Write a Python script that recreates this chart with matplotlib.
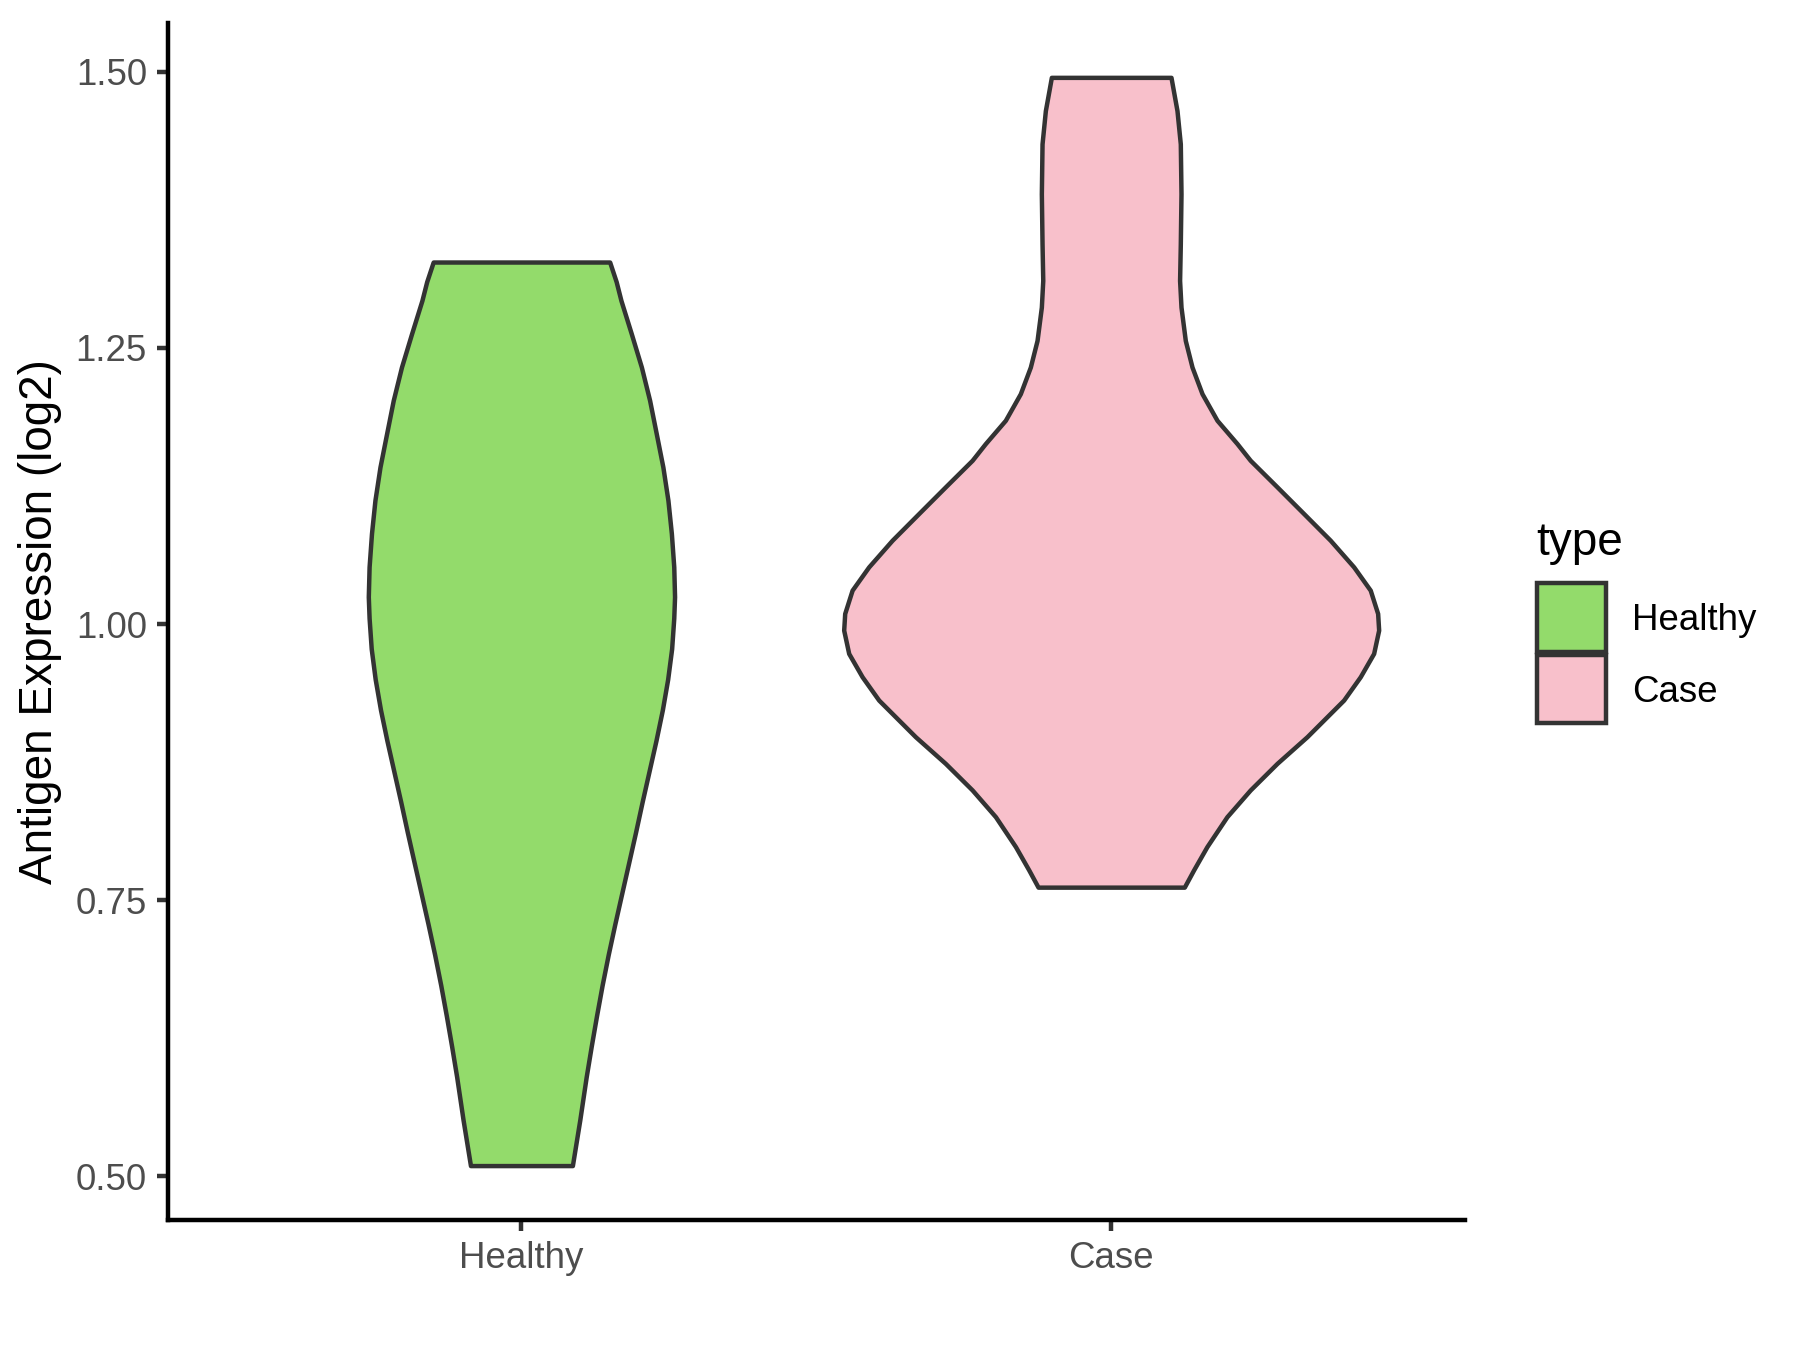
import numpy as np
import matplotlib
matplotlib.use("Agg")
import matplotlib.pyplot as plt
from matplotlib.patches import Rectangle

plt.rcParams['font.family'] = ['Liberation Sans', 'DejaVu Sans']

# groups and their colours
categories = ["Healthy", "Case"]
fill_colors = ["#93DB6B", "#F8C0CB"]

# violin outlines: expression value and relative density (widest ~ 1)
healthy_y = [1.3278, 1.310, 1.2930, 1.2629, 1.2327, 1.2026, 1.1725, 1.1422, 1.1121, 1.082,
             1.0518, 1.0247, 1.0054, 0.9777, 0.950, 0.9223, 0.8946, 0.8669, 0.8392, 0.8115,
             0.7838, 0.7562, 0.7285, 0.7007, 0.673, 0.6454, 0.6177, 0.590, 0.5512, 0.5097]
healthy_dens = [0.3325, 0.357, 0.375, 0.414, 0.452, 0.483, 0.508, 0.533, 0.552, 0.565,
                0.574, 0.577, 0.574, 0.566, 0.551, 0.531, 0.507, 0.481, 0.455, 0.430,
                0.404, 0.378, 0.352, 0.327, 0.304, 0.283, 0.263, 0.244, 0.220, 0.192]

case_y = [1.4950, 1.4649, 1.4348, 1.3896, 1.3443, 1.3111, 1.287, 1.2568, 1.2327, 1.2086,
          1.1845, 1.1634, 1.1483, 1.1242, 1.1001, 1.0759, 1.0518, 1.0307, 1.0096, 0.9945,
          0.9734, 0.9523, 0.9312, 0.898, 0.8739, 0.8498, 0.8256, 0.7985, 0.7774, 0.7618]
case_dens = [0.2254, 0.248, 0.2605, 0.2631, 0.2605, 0.2578, 0.2631, 0.2793, 0.3046, 0.3423,
             0.3988, 0.4742, 0.5239, 0.625, 0.7252, 0.8255, 0.9137, 0.9762, 1.0041, 1.0079,
             0.989, 0.9385, 0.876, 0.7377, 0.625, 0.5239, 0.4361, 0.3607, 0.3106, 0.2755]

y_ticks = [0.50, 0.75, 1.00, 1.25, 1.50]

profiles = [(healthy_y, healthy_dens), (case_y, case_dens)]

fig = plt.figure(figsize=(6, 4.5), dpi=300)
ax = fig.add_axes([0.0931, 0.0963, 0.7208, 0.8867])

lw = 1.07
for i, (yy, dd) in enumerate(profiles):
    pos = i + 1
    yy = np.array(yy)
    half = np.array(dd) * 0.45
    ax.fill_betweenx(yy, pos - half, pos + half, facecolor=fill_colors[i],
                     edgecolor="#333333", linewidth=lw, joinstyle="round")

all_y = np.concatenate([healthy_y, case_y])
span = all_y.max() - all_y.min()
ax.set_ylim(all_y.min() - 0.05 * span, all_y.max() + 0.05 * span)
ax.set_xlim(0.4, 2.6)

ax.set_xticks([1, 2])
ax.set_xticklabels(categories)
ax.set_yticks(y_ticks)
ax.set_yticklabels(["%.2f" % v for v in y_ticks])

for s in ["top", "right"]:
    ax.spines[s].set_visible(False)
for s in ["left", "bottom"]:
    ax.spines[s].set_color("black")
    ax.spines[s].set_linewidth(lw)

ax.tick_params(axis="both", length=2.75, width=lw, color="#333333",
               labelcolor="#4D4D4D", labelsize=8.8, pad=2.2)

ax.set_ylabel("Antigen Expression (log2)", fontsize=11, color="black")
ax.yaxis.set_label_coords(-0.0983, 0.5)
ax.yaxis.label.set_verticalalignment("center")

# legend drawn by hand, ggplot style
W, H = 1800.0, 1350.0
fig.text(1536.7 / W, 1 - 555 / H, "type", fontsize=11, ha="left", va="baseline")
key_tops = [583.3, 655.0]
label_base = [630.0, 701.7]
for i, cat in enumerate(categories):
    fig.add_artist(Rectangle((1537.3 / W, 1 - (key_tops[i] + 68.4) / H), 68.7 / W, 68.4 / H,
                             transform=fig.transFigure, facecolor=fill_colors[i],
                             edgecolor="#333333", linewidth=lw))
    fig.text(1631.7 / W, 1 - label_base[i] / H, cat, fontsize=8.8, ha="left", va="baseline")

fig.savefig("out.png", dpi=300)
